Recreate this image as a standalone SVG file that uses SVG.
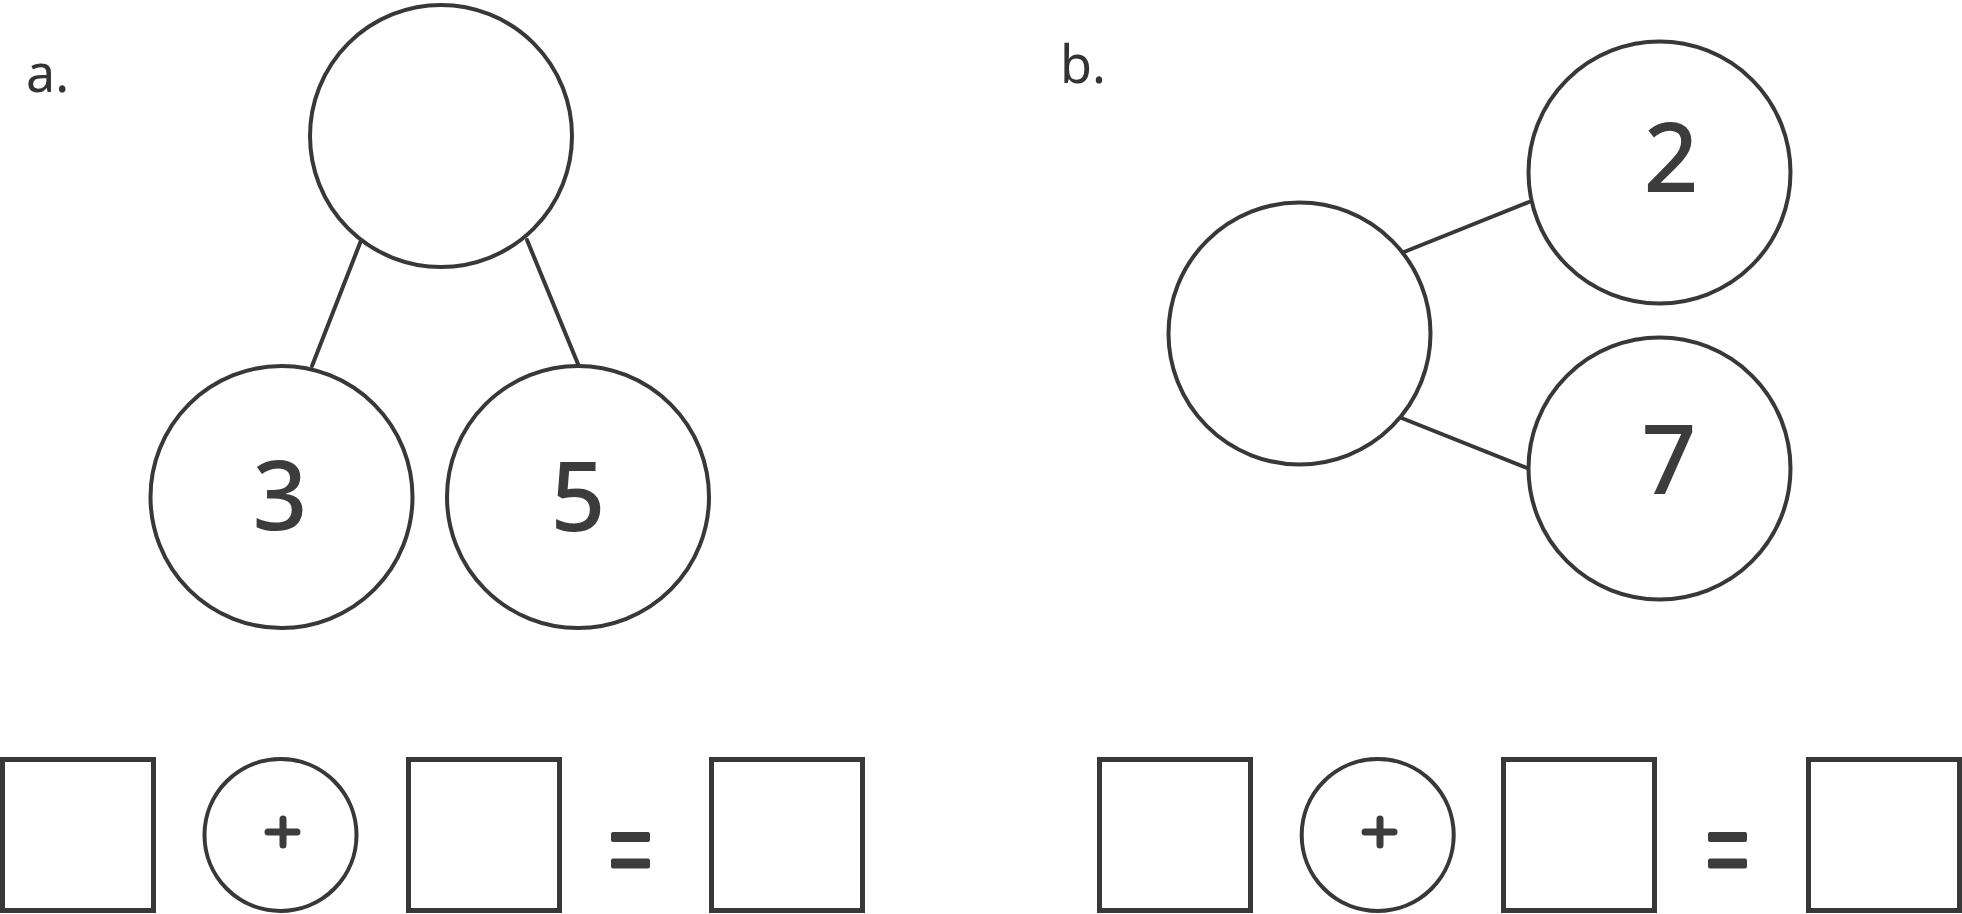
<svg xmlns="http://www.w3.org/2000/svg" width="1962" height="914" viewBox="0 0 1962 914">
<style>
.node{fill:#ffffff;stroke:#383838;stroke-width:4}
.box{fill:#ffffff;stroke:#383838;stroke-width:5}
.conn line{stroke:#383838;stroke-width:4;stroke-linecap:round}
.lbl{font-family:"Noto Sans","DejaVu Sans",sans-serif;font-size:52px;fill:#333333}
.num{font-family:"Noto Sans","DejaVu Sans",sans-serif;font-size:96px;font-weight:500;fill:#3c3c3c;text-anchor:middle}
.op{stroke:#3c3c3c;stroke-width:7;stroke-linecap:round;fill:none}
.eq{fill:#3c3c3c}
</style>
<rect width="1962" height="914" fill="#ffffff"/>

<text class="lbl" x="26" y="92">a.</text>
<text class="lbl" x="1060" y="83">b.</text>

<g id="connectors" class="conn">
  <line x1="362" y1="238" x2="312" y2="366"/>
  <line x1="527" y1="240" x2="578" y2="364"/>
  <line x1="1399" y1="254" x2="1529" y2="202"/>
  <line x1="1399" y1="417" x2="1527" y2="468"/>
</g>

<g id="a-whole"><circle class="node" cx="441" cy="136" r="131"/></g>
<g id="a-part3"><circle class="node" cx="281.5" cy="497" r="131"/><text class="num" x="280" y="530">3</text></g>
<g id="a-part5"><circle class="node" cx="578" cy="497" r="131"/><text class="num" x="578" y="531">5</text></g>

<g id="b-whole"><circle class="node" cx="1299.5" cy="333.5" r="131"/></g>
<g id="b-part2"><circle class="node" cx="1659.5" cy="172.5" r="131"/><text class="num" x="1671" y="192">2</text></g>
<g id="b-part7"><circle class="node" cx="1659.5" cy="468.5" r="131"/><text class="num" x="1669" y="494">7</text></g>

<g id="a-equation">
  <rect class="box" x="2.5" y="759.5" width="151" height="151"/>
  <circle class="node" cx="280.5" cy="835" r="76"/>
  <path class="op" d="M268 832 H297 M283 819 V845"/>
  <rect class="box" x="408.5" y="759.5" width="151" height="151"/>
  <rect class="eq" x="611" y="832" width="39" height="10" rx="2"/>
  <rect class="eq" x="611" y="858.5" width="39" height="10" rx="2"/>
  <rect class="box" x="711.5" y="759.5" width="151" height="151"/>
</g>

<g id="b-equation">
  <rect class="box" x="1099.5" y="759.5" width="151" height="151"/>
  <circle class="node" cx="1377.7" cy="835" r="76"/>
  <path class="op" d="M1365 832 H1394 M1380 819 V845"/>
  <rect class="box" x="1503.5" y="759.5" width="151" height="151"/>
  <rect class="eq" x="1708" y="832" width="39" height="10" rx="2"/>
  <rect class="eq" x="1708" y="858.5" width="39" height="10" rx="2"/>
  <rect class="box" x="1808.5" y="759.5" width="151" height="151"/>
</g>
</svg>
